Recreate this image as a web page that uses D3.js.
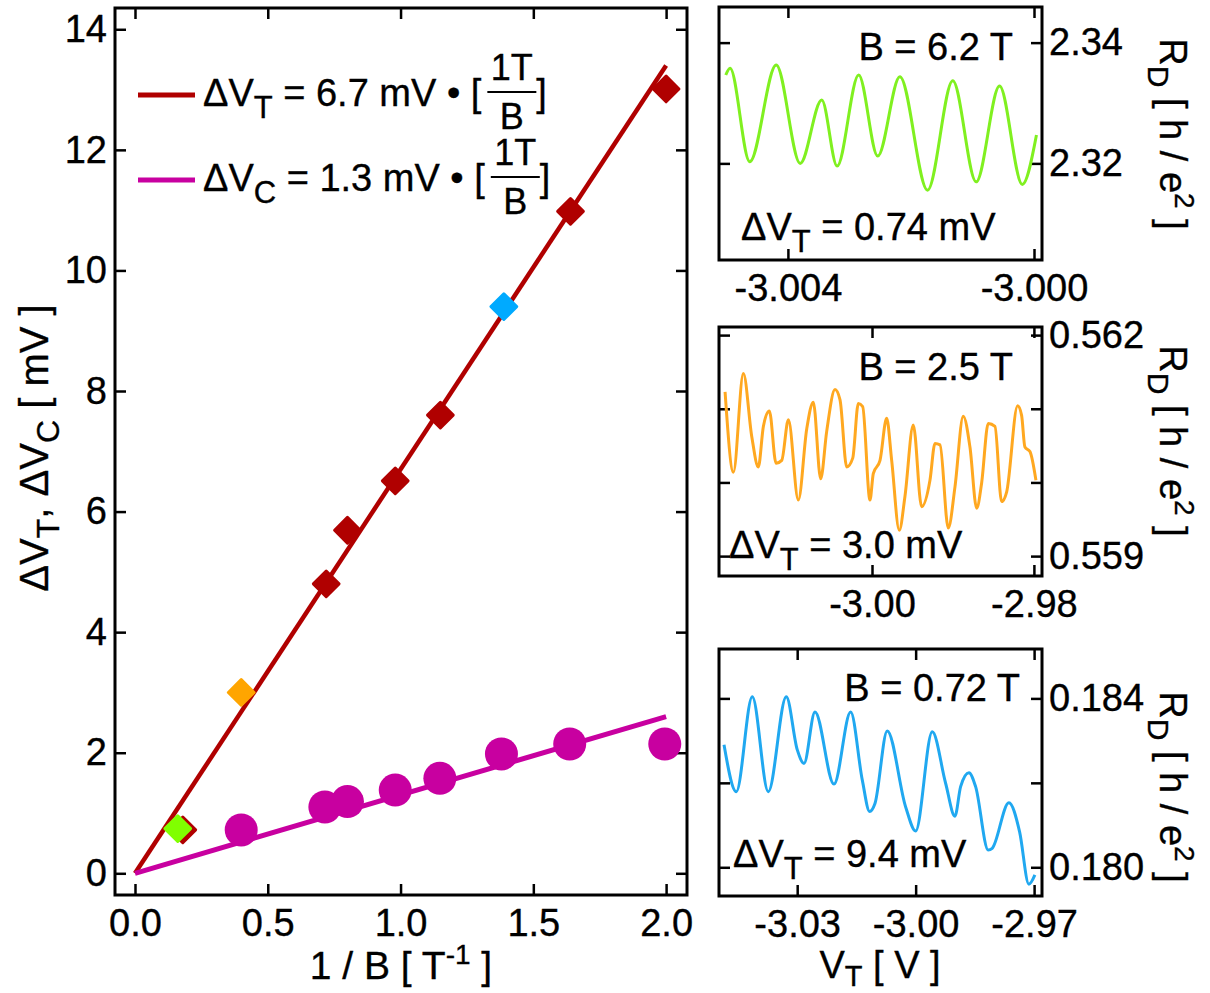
<!DOCTYPE html>
<html><head><meta charset="utf-8">
<script src="https://cdn.jsdelivr.net/npm/d3@7"></script>
<style>
body{margin:0;background:#fff}
text{font-family:"Liberation Sans",Arial,sans-serif;fill:#000;stroke:#000;stroke-width:0.35px}
</style>
</head><body>
<svg id="c" width="1210" height="993"></svg>
<script>
// ---------- main plot data ----------
const invB_T   = [0.18, 0.72, 0.80, 0.98, 1.15, 1.64, 2.00];
const deltaVT  = [0.72, 4.80, 5.69, 6.51, 7.60, 10.98, 13.01];
const invB_hl  = [0.161, 0.40, 1.389];
const deltaVhl = [0.74, 3.0, 9.4];
const hlColors = ["#80ff00", "#ffa500", "#00aaff"];
const invB_C   = [0.40, 0.715, 0.80, 0.98, 1.148, 1.38, 1.637, 1.995];
const deltaVC  = [0.72, 1.10, 1.19, 1.38, 1.575, 1.98, 2.145, 2.145];
const slopeT = 6.7, slopeC = 1.3;
const fitRange = [0, 2.0];
const mainXTicks = [0, 0.5, 1.0, 1.5, 2.0];
const mainYTicks = [0, 2, 4, 6, 8, 10, 12, 14];

// ---------- inset traces ----------
const traceA_V = [-3.00501,-3.00494,-3.00462,-3.00419,-3.00380,-3.00345,-3.00320,-3.00285,-3.00254,-3.00218,-3.00173,-3.00132,-3.00094,-3.00056,-3.00019,-2.99996];
const traceA_R = [2.33464,2.33575,2.32027,2.33630,2.32000,2.33050,2.31955,2.33464,2.32121,2.33436,2.31557,2.33370,2.31695,2.33282,2.31652,2.32469];

const traceB_V = [-3.01815,-3.01712,-3.01589,-3.01485,-3.01404,-3.01342,-3.01268,-3.01185,-3.01115,-3.01033,-3.00910,-3.00806,-3.00725,-3.00634,-3.00560,-3.00457,-3.00395,-3.00312,-3.00238,-3.00169,-3.00115,-3.00025,-2.99984,-2.99901,-2.99819,-2.99757,-2.99663,-2.99593,-2.99490,-2.99387,-2.99284,-2.99222,-2.99160,-2.99058,-2.98975,-2.98873,-2.98790,-2.98707,-2.98646,-2.98564,-2.98481,-2.98399,-2.98337,-2.98201,-2.98152,-2.98111,-2.98049,-2.97975];
const traceB_R = [0.56123,0.56014,0.56148,0.56062,0.56021,0.56076,0.56097,0.56026,0.56030,0.56085,0.55976,0.56073,0.56109,0.56005,0.56069,0.56126,0.56112,0.56021,0.56033,0.56107,0.56103,0.55976,0.56012,0.56030,0.56087,0.56030,0.55935,0.55981,0.56078,0.55967,0.56003,0.56053,0.56051,0.55938,0.55994,0.56090,0.56048,0.55965,0.55999,0.56080,0.56076,0.55974,0.55987,0.56104,0.56091,0.56048,0.56042,0.56003];

const traceC_V = [-3.04853,-3.04542,-3.04137,-3.03732,-3.03276,-3.02997,-3.02828,-3.02549,-3.02068,-3.01646,-3.01352,-3.01165,-3.01030,-3.00719,-3.00253,-3.00000,-2.99579,-2.99241,-2.99005,-2.98861,-2.98651,-2.98481,-2.98162,-2.98061,-2.97638,-2.97367,-2.97132,-2.96980];
const traceC_R = [0.18290,0.18179,0.18404,0.18179,0.18404,0.18278,0.18246,0.18368,0.18197,0.18368,0.18207,0.18132,0.18151,0.18323,0.18143,0.18086,0.18321,0.18199,0.18121,0.18191,0.18224,0.18191,0.18041,0.18045,0.18153,0.18084,0.17960,0.17982];

const panelXTicks = [[-3.004, -3.000], [-3.00, -2.98], [-3.03, -3.00, -2.97]];
const panelYTicks = [[2.32, 2.34], [0.559, 0.560, 0.561, 0.562], [0.180, 0.182, 0.184]];
const panelYLabeled = [[2.32, 2.34], [0.559, 0.562], [0.180, 0.184]];
const panelB = ["B = 6.2 T", "B = 2.5 T", "B = 0.72 T"];
const panelDV = ["0.74", "3.0", "9.4"];

// ---------- drawing ----------
const svg = d3.select("#c");
const FS = 38;
const RED = "#b00000", MAG = "#c800a0";

// main plot
const M = {l:115, r:687, t:8, b:895};
const x = d3.scaleLinear().domain([-0.0753, 2.0787]).range([M.l, M.r]);
const y = d3.scaleLinear().domain([-0.36, 14.353]).range([M.b, M.t]);

function styleAxis(g, showText){
  g.select(".domain").remove();
  g.selectAll(".tick line").attr("stroke","#000").attr("stroke-width",2.5);
  g.selectAll(".tick text").style("font-size", FS+"px").style("font-family",'"Liberation Sans",Arial,sans-serif');
  if(!showText) g.selectAll(".tick text").remove();
}
const TK = 11;
svg.append("g").attr("transform",`translate(0,${M.b})`)
  .call(d3.axisBottom(x).tickValues(mainXTicks).tickSizeInner(-TK).tickSizeOuter(0).tickPadding(14).tickFormat(d=>d.toFixed(1)))
  .call(g=>styleAxis(g,true));
svg.append("g").attr("transform",`translate(0,${M.t})`)
  .call(d3.axisTop(x).tickValues(mainXTicks).tickSizeInner(-TK).tickSizeOuter(0))
  .call(g=>styleAxis(g,false));
svg.append("g").attr("transform",`translate(${M.l},0)`)
  .call(d3.axisLeft(y).tickValues(mainYTicks).tickSizeInner(-TK).tickSizeOuter(0).tickPadding(8).tickFormat(d=>String(d)))
  .call(g=>styleAxis(g,true));
svg.append("g").attr("transform",`translate(${M.r},0)`)
  .call(d3.axisRight(y).tickValues(mainYTicks).tickSizeInner(-TK).tickSizeOuter(0))
  .call(g=>styleAxis(g,false));
svg.append("rect").attr("x",M.l).attr("y",M.t).attr("width",M.r-M.l).attr("height",M.b-M.t)
  .attr("fill","none").attr("stroke","#000").attr("stroke-width",3);

// fit lines
const fitLine = slope => d3.line().x(d=>x(d)).y(d=>y(slope*d));
svg.append("path").attr("d", fitLine(slopeT)(fitRange)).attr("stroke",RED).attr("stroke-width",4.5).attr("fill","none");
svg.append("path").attr("d", fitLine(slopeC)(fitRange)).attr("stroke",MAG).attr("stroke-width",5).attr("fill","none");

// circles
svg.append("g").selectAll("circle").data(invB_C.map((v,i)=>[v,deltaVC[i]])).join("circle")
  .attr("cx",d=>x(d[0])).attr("cy",d=>y(d[1])).attr("r",16.5).attr("fill",MAG);

// diamonds
const diamond = d3.symbol().type(d3.symbolSquare).size(330)();
svg.append("g").selectAll("path").data(invB_T.map((v,i)=>[v,deltaVT[i]])).join("path")
  .attr("d",diamond).attr("transform",d=>`translate(${x(d[0])},${y(d[1])}) rotate(45)`)
  .attr("fill",RED).attr("stroke",RED).attr("stroke-width",3).attr("stroke-linejoin","round");
svg.append("g").selectAll("path").data(invB_hl.map((v,i)=>[v,deltaVhl[i],hlColors[i]])).join("path")
  .attr("d",diamond).attr("transform",d=>`translate(${x(d[0])},${y(d[1])}) rotate(45)`)
  .attr("fill",d=>d[2]).attr("stroke",d=>d[2]).attr("stroke-width",3).attr("stroke-linejoin","round");

// legend
function legendRow(base, sub, val, color){
  svg.append("line").attr("x1",138).attr("x2",195).attr("y1",base-11).attr("y2",base-11)
    .attr("stroke",color).attr("stroke-width",5);
  const t = svg.append("text").attr("x",203).attr("y",base).style("font-size",FS+"px");
  t.append("tspan").text("ΔV");
  t.append("tspan").attr("dy",12).style("font-size","31px").text(sub);
  t.append("tspan").attr("dy",-12).text(` = ${val} mV • [`);
  const w = t.node().getComputedTextLength();
  const x0 = 203 + w + 6, fw = 49, cx = x0 + fw/2;
  svg.append("text").attr("x",cx).attr("y",base-26).attr("text-anchor","middle").style("font-size","36px").text("1T");
  svg.append("line").attr("x1",x0).attr("x2",x0+fw).attr("y1",base-14).attr("y2",base-14).attr("stroke","#000").attr("stroke-width",2);
  svg.append("text").attr("x",cx).attr("y",base+23).attr("text-anchor","middle").style("font-size","36px").text("B");
  svg.append("text").attr("x",x0+fw).attr("y",base).style("font-size",FS+"px").text("]");
}
legendRow(106, "T", "6.7", RED);
legendRow(191, "C", "1.3", MAG);

// axis labels main
{
  const t = svg.append("text").attr("transform","translate(48,448) rotate(-90)").attr("text-anchor","middle").style("font-size","40px");
  t.append("tspan").text("ΔV");
  t.append("tspan").attr("dy",11).style("font-size","32px").text("T");
  t.append("tspan").attr("dy",-11).text(", ΔV");
  t.append("tspan").attr("dy",11).style("font-size","32px").text("C");
  t.append("tspan").attr("dy",-11).text(" [ mV ]");
}
{
  const t = svg.append("text").attr("x",401).attr("y",979).attr("text-anchor","middle").style("font-size","39px");
  t.append("tspan").text("1 / B [ T");
  t.append("tspan").attr("dy",-15).style("font-size","28px").text("-1");
  t.append("tspan").attr("dy",15).text(" ]");
}

// panels
const P = {l:719, r:1042};
const panelBoxes = [{t:7,b:260},{t:327,b:576},{t:649,b:896}];
const panelXDom = [[-3.00512,-2.99987],[-3.0189,-2.979],[-3.0498,-2.968]];
const panelYDom = [[2.304,2.3459],[0.55873,0.56211],[0.17932,0.18517]];
const panelTraces = [[traceA_V,traceA_R],[traceB_V,traceB_R],[traceC_V,traceC_R]];
const panelColors = ["#80f020","#ffa820","#20a8f0"];
const xFmt = [3,2,2], yFmt = [2,3,3];
const bPos = [[1013,60],[1013,380],[1020,701]];
const dvPos = [[741,240],[729,558],[733,867]];
const rLabelCY = [134,441,787];

panelBoxes.forEach((bx,i)=>{
  const px = d3.scaleLinear().domain(panelXDom[i]).range([P.l,P.r]);
  const py = d3.scaleLinear().domain(panelYDom[i]).range([bx.b,bx.t]);
  svg.append("g").attr("transform",`translate(0,${bx.b})`)
    .call(d3.axisBottom(px).tickValues(panelXTicks[i]).tickSizeInner(-TK).tickSizeOuter(0).tickPadding(14).tickFormat(d=>d.toFixed(xFmt[i])))
    .call(g=>styleAxis(g,true));
  svg.append("g").attr("transform",`translate(0,${bx.t})`)
    .call(d3.axisTop(px).tickValues(panelXTicks[i]).tickSizeInner(-TK).tickSizeOuter(0))
    .call(g=>styleAxis(g,false));
  svg.append("g").attr("transform",`translate(${P.l},0)`)
    .call(d3.axisLeft(py).tickValues(panelYTicks[i]).tickSizeInner(-TK).tickSizeOuter(0))
    .call(g=>styleAxis(g,false));
  svg.append("g").attr("transform",`translate(${P.r},0)`)
    .call(d3.axisRight(py).tickValues(panelYTicks[i]).tickSizeInner(-TK).tickSizeOuter(0).tickPadding(7)
      .tickFormat(d=>panelYLabeled[i].some(v=>Math.abs(v-d)<1e-9)?d.toFixed(yFmt[i]):""))
    .call(g=>styleAxis(g,true));
  const [V,R] = panelTraces[i];
  svg.append("path").attr("d", d3.line().curve(d3.curveMonotoneX).x(d=>px(d[0])).y(d=>py(d[1]))(V.map((v,k)=>[v,R[k]])))
    .attr("fill","none").attr("stroke",panelColors[i]).attr("stroke-width",3).attr("stroke-linejoin","round");
  svg.append("rect").attr("x",P.l).attr("y",bx.t).attr("width",P.r-P.l).attr("height",bx.b-bx.t)
    .attr("fill","none").attr("stroke","#000").attr("stroke-width",3);
  svg.append("text").attr("x",bPos[i][0]).attr("y",bPos[i][1]).attr("text-anchor","end").style("font-size",FS+"px").text(panelB[i]);
  const t = svg.append("text").attr("x",dvPos[i][0]).attr("y",dvPos[i][1]).style("font-size",FS+"px");
  t.append("tspan").text("ΔV");
  t.append("tspan").attr("dy",12).style("font-size","31px").text("T");
  t.append("tspan").attr("dy",-12).text(` = ${panelDV[i]} mV`);
  const r = svg.append("text").attr("transform",`translate(1160,${rLabelCY[i]}) rotate(90)`).attr("text-anchor","middle").style("font-size",FS+"px");
  r.append("tspan").text("R");
  r.append("tspan").attr("dy",12).style("font-size","30px").text("D");
  r.append("tspan").attr("dy",-12).text(" [ h / e");
  r.append("tspan").attr("dy",-15).style("font-size","28px").text("2");
  r.append("tspan").attr("dy",15).text(" ]");
});
{
  const t = svg.append("text").attr("x",880).attr("y",978).attr("text-anchor","middle").style("font-size","38px");
  t.append("tspan").text("V");
  t.append("tspan").attr("dy",8).style("font-size","29px").text("T");
  t.append("tspan").attr("dy",-8).text(" [ V ]");
}
</script>
</body></html>
